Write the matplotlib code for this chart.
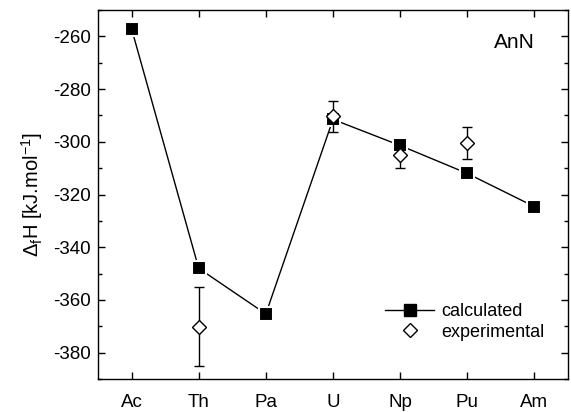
import matplotlib
matplotlib.use("Agg")
import matplotlib.pyplot as plt
from matplotlib.ticker import MultipleLocator
from matplotlib.lines import Line2D

plt.rcParams['font.family'] = ['Liberation Sans', 'DejaVu Sans']
plt.rcParams['mathtext.fontset'] = 'custom'
plt.rcParams['mathtext.rm'] = 'Liberation Sans'
plt.rcParams['mathtext.it'] = 'Liberation Sans'
plt.rcParams['axes.unicode_minus'] = False

elements = ["Ac", "Th", "Pa", "U", "Np", "Pu", "Am"]
calculated = [-257.1, -348.0, -365.3, -291.5, -301.4, -312.0, -324.6]
exp_idx = [1, 3, 4, 5]
experimental = [-370.1, -290.4, -305.0, -300.4]
exp_err = [15.0, 6.0, 5.0, 6.0]

fig = plt.figure(figsize=(5.71, 4.12), dpi=100)
ax = fig.add_axes([0.1716, 0.0801, 0.8231, 0.8956])

x = list(range(len(elements)))
ax.plot(x, calculated, color='black', lw=1.0, marker='s', markersize=9.5,
        markerfacecolor='black', markeredgecolor='white', markeredgewidth=1.5,
        zorder=3)
ax.errorbar(exp_idx, experimental, yerr=exp_err, fmt='D', color='black',
            markerfacecolor='white', markeredgecolor='black', markersize=7.5,
            markeredgewidth=1.0, elinewidth=1.0, capsize=3.5, capthick=1.0,
            zorder=4)

ax.set_xlim(-0.5, 6.5)
ax.set_ylim(-390, -250)
ax.set_xticks(x)
ax.set_xticklabels(elements)
ax.yaxis.set_major_locator(MultipleLocator(20))
ax.yaxis.set_minor_locator(MultipleLocator(10))
ax.tick_params(axis='both', which='both', direction='in', top=True, right=True,
               labelsize=13.5, width=1.0)
ax.tick_params(which='major', length=5)
ax.tick_params(which='minor', length=3)
ax.tick_params(axis='x', pad=11)
ax.tick_params(axis='y', pad=5)
for s in ax.spines.values():
    s.set_linewidth(1.0)

ax.set_ylabel(r'$\Delta_f$H [kJ.mol$^{-1}$]', fontsize=14.5, labelpad=6)
ax.text(5.7, -262.5, 'AnN', fontsize=15, ha='center', va='center')

h1 = Line2D([], [], color='black', lw=1.0, marker='s', markersize=8.5,
            markerfacecolor='black', markeredgecolor='black')
h2 = Line2D([], [], color='none', marker='D', markersize=7.5,
            markerfacecolor='white', markeredgecolor='black')
ax.legend([h1, h2], ['calculated', 'experimental'], loc='lower right',
          bbox_to_anchor=(0.985, 0.06), frameon=False, fontsize=13,
          handlelength=2.7, handletextpad=0.4, labelspacing=0.2)

fig.savefig('out.png', dpi=100)
